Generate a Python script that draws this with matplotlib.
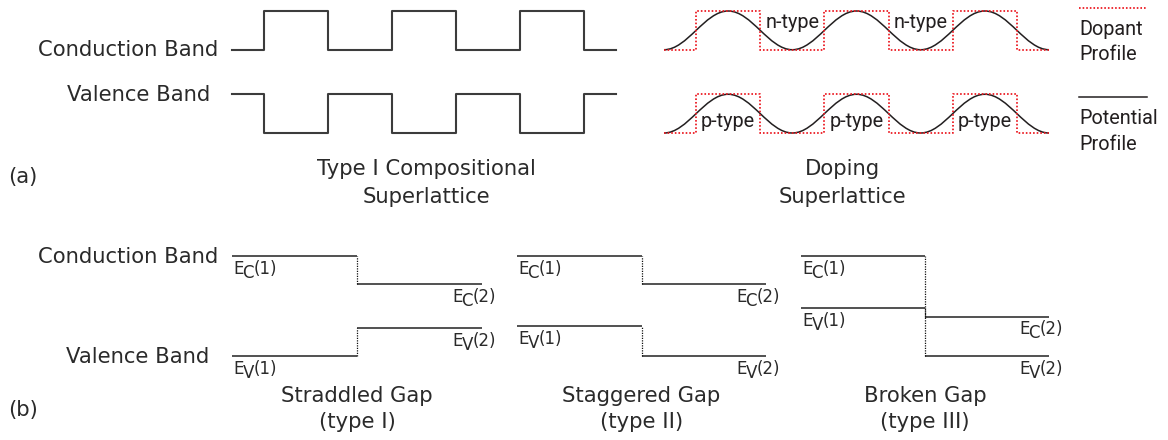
import matplotlib
matplotlib.use("Agg")
import matplotlib.pyplot as plt
from matplotlib.path import Path
from matplotlib.patches import PathPatch
from matplotlib.lines import Line2D

# ---------------------------------------------------------------------------
# (a) Type I compositional superlattice: layer boundaries (units of layer width)
comp_edges = [0.0, 0.5, 1.5, 2.5, 3.5, 4.5, 5.5, 6.0]
comp_cb = [2.15, 3.15, 2.15, 3.15, 2.15, 3.15, 2.15]   # conduction band edge
comp_vb = [1.00, 0.00, 1.00, 0.00, 1.00, 0.00, 1.00]   # valence band edge

# (a) Doping superlattice: positions in units of the doping period
dope_edges = [0.0, 0.25, 0.75, 1.25, 1.75, 2.25, 2.75, 3.0]
dope_cb = [2.15, 3.15, 2.15, 3.15, 2.15, 3.15, 2.15]   # dopant profile, upper row
dope_vb = [0.00, 1.00, 0.00, 1.00, 0.00, 1.00, 0.00]   # dopant profile, lower row
pot_x = [0.0, 0.5, 1.0, 1.5, 2.0, 2.5, 3.0]           # extrema of the potential
pot_cb = [2.15, 3.15, 2.15, 3.15, 2.15, 3.15, 2.15]
pot_vb = [0.00, 1.00, 0.00, 1.00, 0.00, 1.00, 0.00]
n_type_x = [1.0, 2.0]
p_type_x = [0.5, 1.5, 2.5]

# (b) Heterojunction band alignments
align_names = ["Straddled Gap", "Staggered Gap", "Broken Gap"]
align_types = ["(type I)", "(type II)", "(type III)"]
ec1 = [1.00, 1.00, 1.00]
ev1 = [0.00, 0.30, 0.48]
ec2 = [0.72, 0.72, 0.39]
ev2 = [0.28, 0.00, 0.00]

# ---------------------------------------------------------------------------
W, H = 1168, 440
TEXT = "#2a2a2a"
LINE = "#3c3c3c"
RED = "#ec1c24"
MAIN_FONT = "DejaVu Sans"
DOPE_FONT = "Roboto"
FS = 15.2
DFS = 14.3
LFS = 12.0
PT = 72.0 / 100.0  # points per pixel

fig = plt.figure(figsize=(W / 100, H / 100), dpi=100)

canvas = fig.add_axes([0, 0, 1, 1])
canvas.set_xlim(0, W)
canvas.set_ylim(H, 0)
canvas.axis("off")


def panel(x0, x1, y_top, y_bot, xlim, ylim):
    ax = fig.add_axes([x0 / W, 1 - y_bot / H, (x1 - x0) / W, (y_bot - y_top) / H])
    ax.set_xlim(*xlim)
    ax.set_ylim(*ylim)
    ax.set_facecolor("none")
    ax.axis("off")
    return ax


def steps(ax, edges, levels, **kw):
    ax.step(edges, list(levels) + [levels[-1]], where="post", clip_on=False, **kw)


def smooth_profile(ax, xs, ys, a=0.3634, **kw):
    verts = [(xs[0], ys[0])]
    codes = [Path.MOVETO]
    for xa, ya, xb, yb in zip(xs[:-1], ys[:-1], xs[1:], ys[1:]):
        d = xb - xa
        verts += [(xa + a * d, ya), (xb - a * d, yb), (xb, yb)]
        codes += [Path.CURVE4] * 3
    ax.add_patch(PathPatch(Path(verts, codes), fill=False, clip_on=False, **kw))


def txt(x, y, s, ha="left", va="baseline", size=FS, family=MAIN_FONT, color=TEXT):
    canvas.text(x, y, s, ha=ha, va=va, fontsize=size, color=color, family=family)


# ---------------------------- (a) compositional ----------------------------
ax_c = panel(232, 616, 11, 133, (0, 6), (0, 3.15))
steps(ax_c, comp_edges, comp_cb, color=LINE, lw=1.5)
steps(ax_c, comp_edges, comp_vb, color=LINE, lw=1.5)

# ------------------------------ (a) doping ---------------------------------
ax_d = panel(664, 1049, 11, 133, (0, 3), (0, 3.15))
dots = dict(color=RED, lw=1.3, linestyle=(0, (0.9, 1.1)))
steps(ax_d, dope_edges, dope_cb, **dots)
steps(ax_d, dope_edges, dope_vb, **dots)
smooth_profile(ax_d, pot_x, pot_cb, edgecolor="#231f20", lw=1.1)
smooth_profile(ax_d, pot_x, pot_vb, edgecolor="#231f20", lw=1.1)
for x in n_type_x:
    ax_d.annotate("n-type", xy=(x, dope_cb[0]), xytext=(0, 22 * PT),
                  textcoords="offset points", ha="center", va="baseline",
                  fontsize=DFS, family=DOPE_FONT, color="#231f20",
                  annotation_clip=False)
for x in p_type_x:
    ax_d.annotate("p-type", xy=(x, dope_vb[1]), xytext=(0, -33 * PT),
                  textcoords="offset points", ha="center", va="baseline",
                  fontsize=DFS, family=DOPE_FONT, color="#231f20",
                  annotation_clip=False)

# legend
canvas.add_line(Line2D([1079, 1147], [8, 8], **dots))
canvas.add_line(Line2D([1079, 1147], [97, 97], color="#231f20", lw=1.1))
for y, s in [(35, "Dopant"), (60, "Profile"), (124, "Potential"), (150, "Profile")]:
    txt(1079, y, s, size=DFS, family=DOPE_FONT, color="#231f20")

# labels for (a)
txt(218, 56, "Conduction Band", ha="right")
txt(210, 101, "Valence Band", ha="right")
txt(8, 177, "(a)", va="center")
txt(426, 175, "Type I Compositional", ha="center")
txt(426, 203, "Superlattice", ha="center")
txt(842, 175, "Doping", ha="center")
txt(842, 203, "Superlattice", ha="center")

# ------------------------------ (b) alignments -----------------------------
E_W = 0.57 * LFS    # advance of "E" in points (tight)
S_W = 0.68 * LFS    # advance of the subscript letter in points


def band_label(ax, x, level, sub, idx, dx_px):
    x0 = dx_px * PT
    y0 = -17.5 * PT
    kw = dict(xy=(x, level), textcoords="offset points", ha="left",
              va="baseline", fontsize=LFS, color=TEXT, family=MAIN_FONT,
              annotation_clip=False)
    ax.annotate("E", xytext=(x0, y0), **kw)
    ax.annotate(sub, xytext=(x0 + E_W, y0 - 4 * PT), **kw)
    ax.annotate(f"({idx})", xytext=(x0 + E_W + S_W, y0), **kw)


panel_x = [(232, 482), (517, 766), (801, 1049)]
for i, (x0, x1) in enumerate(panel_x):
    ax = panel(x0, x1, 256, 356, (0, 2), (0, 1))
    line = dict(color=LINE, lw=1.25, clip_on=False, solid_capstyle="butt")
    ax.plot([0, 1], [ec1[i], ec1[i]], **line)
    ax.plot([0, 1], [ev1[i], ev1[i]], **line)
    ax.plot([1, 2], [ec2[i], ec2[i]], **line)
    ax.plot([1, 2], [ev2[i], ev2[i]], **line)
    ax.vlines(1, min(ec1[i], ec2[i]), max(ec1[i], ec2[i]), colors="#111111",
              lw=0.9, linestyles=(0, (1, 1)), clip_on=False)
    ax.vlines(1, min(ev1[i], ev2[i]), max(ev1[i], ev2[i]), colors="#111111",
              lw=0.9, linestyles=(0, (1, 1)), clip_on=False)
    band_label(ax, 0, ec1[i], "C", 1, 1)
    band_label(ax, 0, ev1[i], "V", 1, 1)
    band_label(ax, 2, ec2[i], "C", 2, -30)
    band_label(ax, 2, ev2[i], "V", 2, -30)
    cx = (x0 + x1) / 2
    txt(cx, 402, align_names[i], ha="center")
    txt(cx, 428, align_types[i], ha="center")

txt(218, 263, "Conduction Band", ha="right")
txt(209, 363, "Valence Band", ha="right")
txt(8, 410, "(b)", va="center")

fig.savefig("out.png", dpi=100, facecolor="white")
